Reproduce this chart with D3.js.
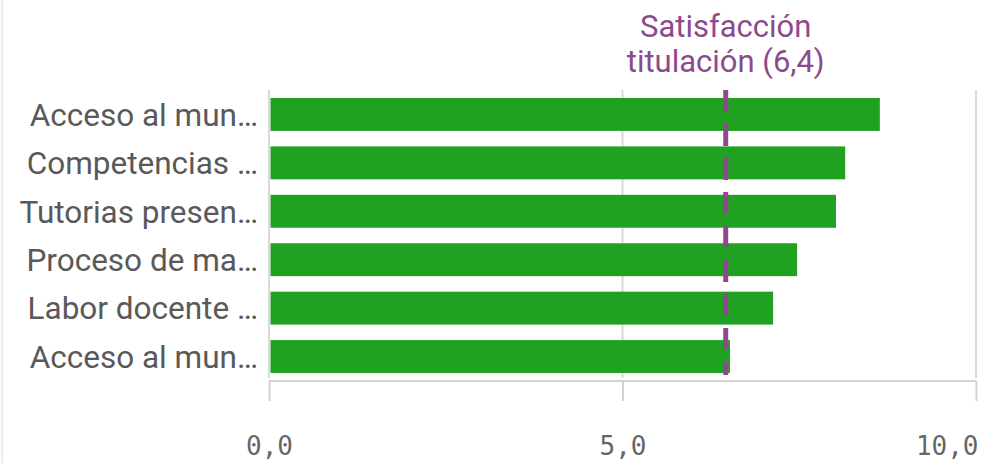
<!DOCTYPE html>
<html>
<head>
<meta charset="utf-8">
<script src="https://cdn.jsdelivr.net/npm/d3@7"></script>
<style>
  body { margin: 0; background: #fff; }
  svg { display: block; }
</style>
</head>
<body>
<svg width="981" height="463"></svg>
<script>
// data
const categories = ["Acceso al mun…", "Competencias …", "Tutorias presen…", "Proceso de ma…", "Labor docente …", "Acceso al mun…"];
const values = [8.64, 8.15, 8.02, 7.47, 7.13, 6.52];
const refValue = 6.46;
const refLabel = ["Satisfacción", "titulación (6,4)"];
const ticks = [0, 5, 10];
const tickLabels = ["0,0", "5,0", "10,0"];

const width = 981, height = 463;
const plotLeft = 269, plotRight = 976, plotTop = 90, plotBottom = 381;

const svg = d3.select("svg");

// panel border on the left
svg.append("line")
  .attr("x1", 2).attr("x2", 2).attr("y1", 0).attr("y2", height)
  .attr("stroke", "#e6e6e6").attr("stroke-width", 1.5);

const x = d3.scaleLinear().domain([0, 10]).range([plotLeft, plotRight]);
const y = d3.scaleBand()
  .domain(d3.range(categories.length))
  .range([plotTop, plotBottom])
  .paddingInner(0.32)
  .paddingOuter(0.165);

// gridlines
svg.append("g").selectAll("line")
  .data(ticks)
  .enter().append("line")
    .attr("x1", d => x(d)).attr("x2", d => x(d))
    .attr("y1", plotTop).attr("y2", plotBottom - 3)
    .attr("stroke", "#d9d9d9").attr("stroke-width", 2);

// bars
svg.append("g").selectAll("rect")
  .data(values)
  .enter().append("rect")
    .attr("x", x(0) + 1.5)
    .attr("y", (d, i) => y(i))
    .attr("width", d => x(d) - x(0) - 1.5)
    .attr("height", y.bandwidth())
    .attr("fill", "#21a121");

// category labels
svg.append("g").selectAll("text")
  .data(categories)
  .enter().append("text")
    .attr("x", 258)
    .attr("y", (d, i) => y(i) + y.bandwidth() / 2)
    .attr("dy", "0.36em")
    .attr("text-anchor", "end")
    .attr("font-family", "Roboto")
    .attr("font-size", "31.5px")
    .attr("fill", "#595959")
    .text(d => d);

// x axis
const xAxis = d3.axisBottom(x)
  .tickValues(ticks)
  .tickSize(20)
  .tickFormat((d, i) => tickLabels[i]);

const gx = svg.append("g")
  .attr("transform", `translate(0, ${plotBottom})`)
  .call(xAxis);
gx.select(".domain").attr("stroke", "#d2d2d2").attr("stroke-width", 2)
  .attr("d", `M${plotLeft},0H${plotRight}`);
gx.selectAll(".tick line").attr("stroke", "#d2d2d2").attr("stroke-width", 2);
gx.selectAll(".tick text")
  .attr("y", 74)
  .attr("dy", 0)
  .attr("font-family", "DejaVu Sans Mono")
  .attr("font-size", "26px")
  .attr("fill", "#666")
  .attr("text-anchor", (d, i) => i === ticks.length - 1 ? "end" : "middle")
  .attr("dx", (d, i) => i === ticks.length - 1 ? 2 : 0);

// reference line
svg.append("line")
  .attr("x1", x(refValue)).attr("x2", x(refValue))
  .attr("y1", plotTop).attr("y2", plotBottom - 6)
  .attr("stroke", "#8c4a8c")
  .attr("stroke-width", 5)
  .attr("stroke-dasharray", "22,12");

svg.append("text")
  .attr("x", x(refValue))
  .attr("y", 37)
  .attr("text-anchor", "middle")
  .attr("font-family", "Roboto")
  .attr("font-size", "31px")
  .attr("fill", "#8c4a8c")
  .selectAll("tspan")
  .data(refLabel)
  .enter().append("tspan")
    .attr("x", x(refValue))
    .attr("dy", (d, i) => i === 0 ? 0 : 35)
    .text(d => d);
</script>
</body>
</html>
